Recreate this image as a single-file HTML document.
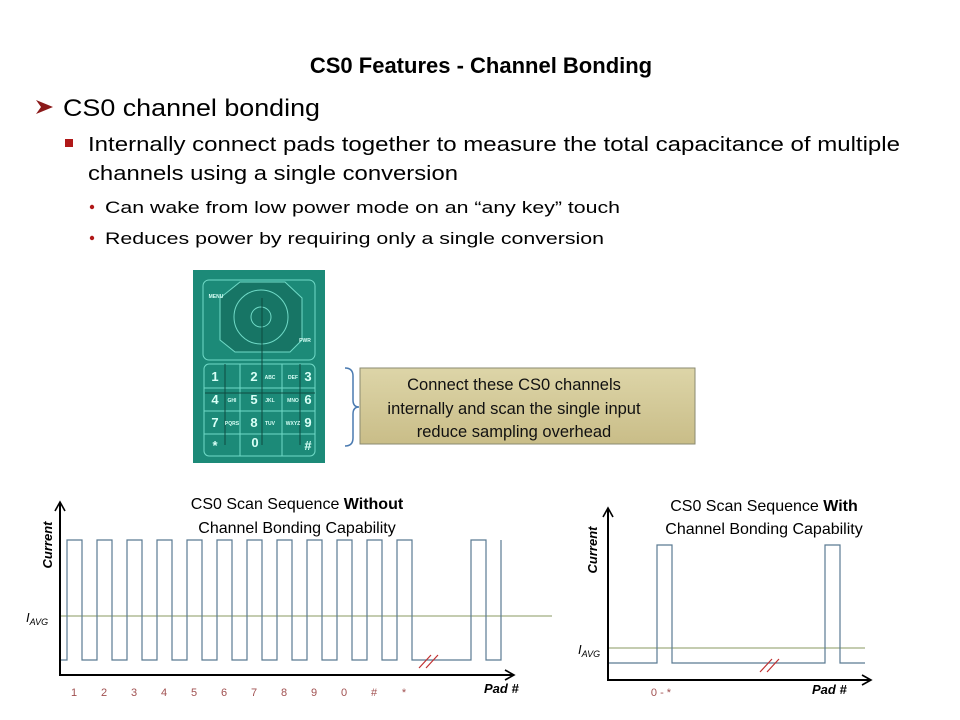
<!DOCTYPE html>
<html><head><meta charset="utf-8"><style>
html,body{margin:0;padding:0;background:#fff;}
svg{display:block;font-family:"Liberation Sans",Arial,sans-serif;}
</style></head><body>
<svg width="960" height="720" viewBox="0 0 960 720" xmlns="http://www.w3.org/2000/svg">
<defs>
<linearGradient id="kh" x1="0" y1="0" x2="0" y2="1"><stop offset="0" stop-color="#ddd5a8"/><stop offset="1" stop-color="#c9bd88"/></linearGradient>
<marker id="ar" markerWidth="12" markerHeight="12" refX="10" refY="6" orient="auto" markerUnits="userSpaceOnUse"><path d="M1,1 L10,6 L1,11" fill="none" stroke="#000" stroke-width="1.6"/></marker>
</defs>
<rect width="960" height="720" fill="#fff"/>
<text x="481" y="73" font-size="22" font-weight="bold" text-anchor="middle">CS0 Features - Channel Bonding</text>
<path d="M36,100 L53,107 L36,114 L41,107 Z" fill="#8b1a1a"/>
<text x="63" y="116" font-size="24" textLength="257" lengthAdjust="spacingAndGlyphs">CS0 channel bonding</text>
<rect x="65" y="139" width="8" height="8" fill="#b01818"/>
<text x="88" y="151" font-size="20.5" textLength="812" lengthAdjust="spacingAndGlyphs">Internally connect pads together to measure the total capacitance of multiple</text>
<text x="88" y="180" font-size="20.5" textLength="370" lengthAdjust="spacingAndGlyphs">channels using a single conversion</text>
<circle cx="92" cy="207" r="2.2" fill="#b01818"/>
<text x="105" y="213" font-size="17" textLength="515" lengthAdjust="spacingAndGlyphs">Can wake from low power mode on an “any key” touch</text>
<circle cx="92" cy="238" r="2.2" fill="#b01818"/>
<text x="105" y="244" font-size="17" textLength="499" lengthAdjust="spacingAndGlyphs">Reduces power by requiring only a single conversion</text>

<!-- keypad -->
<g>
<rect x="193" y="270" width="132" height="193" fill="#1c8a78"/>
<g fill="none" stroke="#7fe8d5" stroke-width="1" opacity="0.85">
<rect x="203" y="280" width="112" height="80" rx="6"/>
<path d="M240,282 L285,282 L302,298 L302,340 L290,352 L235,352 L220,340 L220,298 Z" fill="#177262"/>
<circle cx="261" cy="317" r="27"/>
<circle cx="261" cy="317" r="10"/>
<rect x="204" y="364" width="111" height="92" rx="5"/>
<line x1="204" y1="388" x2="315" y2="388"/><line x1="204" y1="411" x2="315" y2="411"/><line x1="204" y1="434" x2="315" y2="434"/>
<line x1="240" y1="364" x2="240" y2="456"/><line x1="282" y1="364" x2="282" y2="456"/>
</g>
<g stroke="#0e4a40" stroke-width="1" fill="none"><line x1="225" y1="364" x2="225" y2="445"/><line x1="262" y1="298" x2="262" y2="445"/><line x1="300" y1="364" x2="300" y2="445"/><line x1="205" y1="393" x2="315" y2="393"/></g>
<g fill="#d8fff6" font-size="13" font-weight="bold" text-anchor="middle">
<text x="215" y="381">1</text><text x="254" y="381">2</text><text x="308" y="381">3</text>
<text x="215" y="404">4</text><text x="254" y="404">5</text><text x="308" y="404">6</text>
<text x="215" y="427">7</text><text x="254" y="427">8</text><text x="308" y="427">9</text>
<text x="215" y="450">*</text><text x="255" y="447">0</text><text x="308" y="450">#</text>
</g>
<g fill="#d8fff6" font-size="5" font-weight="bold" text-anchor="middle">
<text x="270" y="379">ABC</text><text x="293" y="379">DEF</text><text x="232" y="402">GHI</text><text x="270" y="402">JKL</text><text x="293" y="402">MNO</text><text x="232" y="425">PQRS</text><text x="270" y="425">TUV</text><text x="293" y="425">WXYZ</text>
<text x="216" y="298">MENU</text><text x="305" y="342">PWR</text>
</g>
</g>
<path d="M345,368 Q353,368 353,376 L353,400 Q353,407 359,407 Q353,407 353,414 L353,438 Q353,446 345,446" fill="none" stroke="#4a7ab0" stroke-width="1.5"/>
<rect x="360" y="368" width="335" height="76" fill="url(#kh)" stroke="#8a8a70" stroke-width="1"/>
<g font-size="16.5" text-anchor="middle" fill="#111">
<text x="514" y="390">Connect these CS0 channels</text>
<text x="514" y="414">internally and scan the single input</text>
<text x="514" y="437">reduce sampling overhead</text>
</g>

<!-- left chart -->
<g font-size="16" text-anchor="middle">
<text x="297" y="509">CS0 Scan Sequence <tspan font-weight="bold">Without</tspan></text>
<text x="297" y="533">Channel Bonding Capability</text>
</g>
<line x1="60" y1="616" x2="552" y2="616" stroke="#8a9a60" stroke-width="1"/>
<path d="M60,660 H67 V540 H82 V660 H97 V540 H112 V660 H127 V540 H142 V660 H157 V540 H172 V660 H187 V540 H202 V660 H217 V540 H232 V660 H247 V540 H262 V660 H277 V540 H292 V660 H307 V540 H322 V660 H337 V540 H352 V660 H367 V540 H382 V660 H397 V540 H412 V660 H471 V540 H486 V660 H501 V540" fill="none" stroke="#5a7a92" stroke-width="1.2"/>
<line x1="60" y1="675" x2="60" y2="502" stroke="#000" stroke-width="2" marker-end="url(#ar)"/>
<line x1="59" y1="675" x2="514" y2="675" stroke="#000" stroke-width="2" marker-end="url(#ar)"/>
<g stroke="#c03030" stroke-width="1.2"><line x1="419" y1="668" x2="431" y2="655"/><line x1="426" y1="668" x2="438" y2="655"/></g>
<text transform="translate(52,545) rotate(-90)" font-size="13" font-weight="bold" font-style="italic" text-anchor="middle">Current</text>
<text x="26" y="622" font-size="13" font-style="italic">I<tspan font-size="9" dy="3">AVG</tspan></text>
<g font-size="11" fill="#a05050" text-anchor="middle">
<text x="74" y="696">1</text><text x="104" y="696">2</text><text x="134" y="696">3</text><text x="164" y="696">4</text><text x="194" y="696">5</text><text x="224" y="696">6</text><text x="254" y="696">7</text><text x="284" y="696">8</text><text x="314" y="696">9</text><text x="344" y="696">0</text><text x="374" y="696">#</text><text x="404" y="696">*</text>
</g>
<text x="484" y="693" font-size="13" font-weight="bold" font-style="italic">Pad #</text>

<!-- right chart -->
<g font-size="16" text-anchor="middle">
<text x="764" y="511">CS0 Scan Sequence <tspan font-weight="bold">With</tspan></text>
<text x="764" y="534">Channel Bonding Capability</text>
</g>
<line x1="608" y1="648" x2="865" y2="648" stroke="#8a9a60" stroke-width="1"/>
<path d="M608,663 H657 V545 H672 V663 H825 V545 H840 V663 H865" fill="none" stroke="#5a7a92" stroke-width="1.2"/>
<line x1="608" y1="680" x2="608" y2="508" stroke="#000" stroke-width="2" marker-end="url(#ar)"/>
<line x1="607" y1="680" x2="871" y2="680" stroke="#000" stroke-width="2" marker-end="url(#ar)"/>
<g stroke="#c03030" stroke-width="1.2"><line x1="760" y1="672" x2="772" y2="659"/><line x1="767" y1="672" x2="779" y2="659"/></g>
<text transform="translate(597,550) rotate(-90)" font-size="13" font-weight="bold" font-style="italic" text-anchor="middle">Current</text>
<text x="578" y="654" font-size="13" font-style="italic">I<tspan font-size="9" dy="3">AVG</tspan></text>
<text x="661" y="696" font-size="11" fill="#a05050" text-anchor="middle">0 - *</text>
<text x="812" y="694" font-size="13" font-weight="bold" font-style="italic">Pad #</text>
</svg>
</body></html>
